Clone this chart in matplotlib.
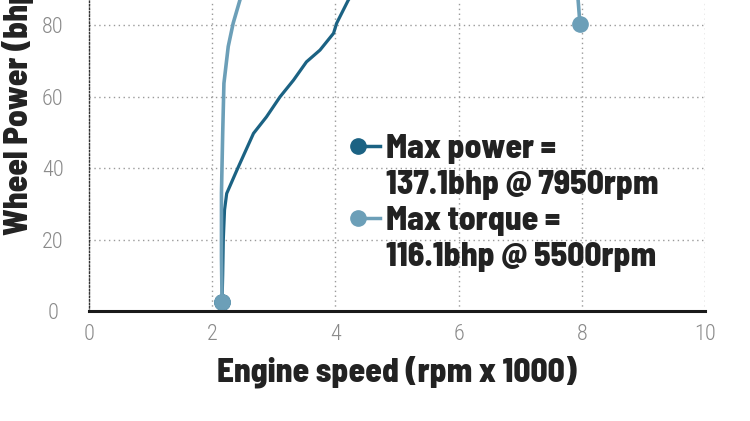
import matplotlib
matplotlib.use("Agg")
import matplotlib.pyplot as plt

# rolling road curves (rpm x 1000, bhp) - upper part runs off the top of the crop
power_rpm = [2.16, 2.17, 2.18, 2.2, 2.235, 2.4, 2.67, 2.88, 3.1, 3.32, 3.53, 3.75, 3.97, 4.02, 4.21, 5.0, 6.0, 7.0, 7.95]
power_bhp = [2.6, 10, 20, 28.3, 32.9, 39.4, 49.7, 54.3, 59.9, 64.6, 69.7, 73.0, 77.7, 80.5, 87, 105, 120, 131, 137.1]

torque_rpm = [2.16, 2.15, 2.15, 2.17, 2.19, 2.26, 2.34, 2.45, 2.6, 3.0, 3.5, 4.5, 5.5, 6.5, 7.5, 7.9, 7.94, 7.97]
torque_bhp = [2.6, 15, 33, 49.7, 63.7, 74, 80.5, 87, 95, 104, 109, 114, 116.1, 113, 100, 90, 87, 80.3]

legend_labels = ["Max power =\n137.1bhp @ 7950rpm", "Max torque =\n116.1bhp @ 5500rpm"]
xticks = [0, 2, 4, 6, 8, 10]
yticks = [0, 20, 40, 60, 80]

dark = "#1b6283"
light = "#6c9fb8"
heavy = ["Barlow Semi Condensed", "DejaVu Sans"]
thin = ["Roboto Condensed", "DejaVu Sans"]

fig = plt.figure(figsize=(7.5, 4.21), dpi=100)
ax = fig.add_axes([0.1187, 0.261, 0.8213, 0.739])

ax.plot(power_rpm, power_bhp, color=dark, lw=2.3, marker="o", ms=11, markevery=[0, -1], solid_capstyle="round")
ax.plot(torque_rpm, torque_bhp, color=light, lw=2.6, marker="o", ms=11, markevery=[0, -1], solid_capstyle="round")

ax.set_xlim(0, 10)
ax.set_ylim(0, 87)
ax.set_xticks(xticks)
ax.set_yticks(yticks)
ax.grid(True, color="#9a9a9a", lw=1, linestyle=(0, (1, 2.5)))
ax.set_axisbelow(True)

for s in ["top", "right"]:
    ax.spines[s].set_visible(False)
ax.spines["bottom"].set_linewidth(2.2)
ax.spines["bottom"].set_color("#1a1a1a")
ax.spines["left"].set_linestyle((0, (1, 1.5)))
ax.spines["left"].set_color("#333333")
ax.spines["left"].set_linewidth(1)

ax.tick_params(length=0, labelcolor="#8a8a8a", labelsize=16)
ax.tick_params(axis="y", pad=26)
ax.tick_params(axis="x", pad=9)
for lab in ax.get_yticklabels() + ax.get_xticklabels():
    lab.set_family(thin)
    lab.set_fontweight(300)
for lab in ax.get_yticklabels():
    lab.set_ha("center")

ax.set_xlabel("Engine speed (rpm x 1000)", fontsize=24, fontweight=800, family=heavy, color="#222222", labelpad=8)
fig.text(0.024, 0.442, "Wheel Power (bhp)", rotation=90, ha="center", va="bottom",
         fontsize=24, fontweight=800, family=heavy, color="#222222")

# legend drawn by hand: marker on the left, short tail, two-line label
for i, (col, lab) in enumerate(zip([dark, light], legend_labels)):
    y = 0.5305 - i * 0.2315
    ax.plot([0.4367, 0.472], [y, y], transform=ax.transAxes, color=col, lw=2.5,
            marker="o", ms=11, markevery=[0], clip_on=False)
    ax.text(0.482, y + 0.04, lab, transform=ax.transAxes, va="top", ha="left",
            fontsize=24, fontweight=800, family=heavy, color="#222222", linespacing=1.28)

fig.savefig("out.png", dpi=100)
